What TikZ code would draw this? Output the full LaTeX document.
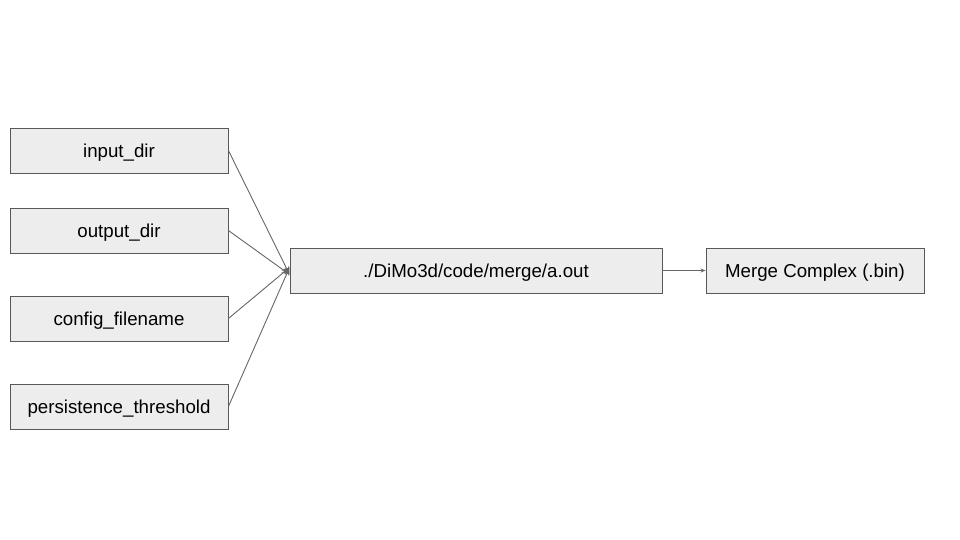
\documentclass[tikz,border=0pt]{standalone}
\usepackage{fontspec}
\setmainfont{Liberation Sans}
\usetikzlibrary{arrows.meta}
\begin{document}
\begin{tikzpicture}[x=1pt,y=-1pt,
  box/.style={draw=black!65, fill=black!7, line width=0.9pt, minimum height=45pt, inner sep=0pt, text height=13.5pt, text depth=0pt, font=\fontsize{18.7}{22}\selectfont},
  conn/.style={draw=black!60, line width=0.9pt, -{Stealth[length=8pt,width=6pt]}}]
\useasboundingbox (0,0) rectangle (960,540);
\node[box, minimum width=218pt] (in) at (119,150.5) {input\_dir};
\node[box, minimum width=218pt] (out) at (119,230.5) {output\_dir};
\node[box, minimum width=218pt] (cfg) at (119,318.5) {config\_filename};
\node[box, minimum width=218pt] (pt) at (119,406.5) {persistence\_threshold};
\node[box, minimum width=372pt] (main) at (476,270.5) {./DiMo3d/code/merge/a.out};
\node[box, minimum width=218pt] (mc) at (815,270.5) {Merge Complex (.bin)};
\draw[conn] (in.east) -- ([yshift=-4pt]main.west);
\draw[conn] (out.east) -- ([yshift=-4pt]main.west);
\draw[conn] (cfg.east) -- ([yshift=3pt]main.west);
\draw[conn] (pt.east) -- ([yshift=3pt]main.west);
\draw[conn, -{Stealth[length=5pt,width=4pt]}] (main.east) -- (mc.west);
\end{tikzpicture}
\end{document}
